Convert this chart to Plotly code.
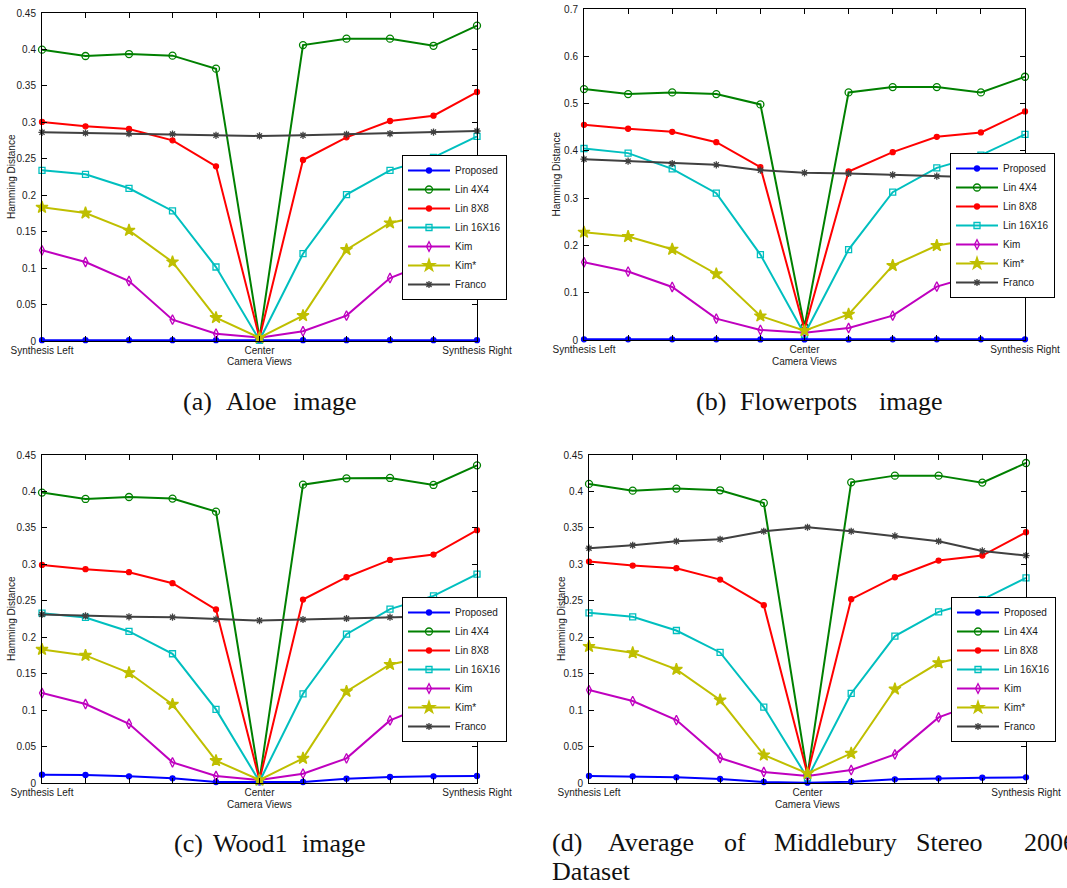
import plotly.graph_objects as go

W, H = 1067, 888

views = list(range(11))
view_ticktext = ["Synthesis Left", "", "", "", "", "Center", "", "", "", "", "Synthesis Right"]

series_names = ["Proposed", "Lin 4X4", "Lin 8X8", "Lin 16X16", "Kim", "Kim*", "Franco"]

# (a) Aloe
aloe_proposed = [0.0012, 0.0012, 0.0012, 0.0012, 0.0011, 0.0010, 0.0011, 0.0012, 0.0012, 0.0012, 0.0012]
aloe_lin4 = [0.3997, 0.3910, 0.3937, 0.3915, 0.3736, 0.0040, 0.4060, 0.4148, 0.4148, 0.4050, 0.4326]
aloe_lin8 = [0.3005, 0.2945, 0.2909, 0.2753, 0.2396, 0.0040, 0.2483, 0.2794, 0.3018, 0.3091, 0.3416]
aloe_lin16 = [0.2341, 0.2287, 0.2095, 0.1784, 0.1015, 0.0010, 0.1198, 0.2008, 0.2341, 0.2520, 0.2808]
aloe_kim = [0.1244, 0.1084, 0.0823, 0.0293, 0.0101, 0.0046, 0.0133, 0.0348, 0.0864, 0.1100, 0.1250]
aloe_kimstar = [0.1834, 0.1756, 0.1518, 0.1084, 0.0320, 0.0046, 0.0348, 0.1253, 0.1619, 0.1750, 0.1860]
aloe_franco = [0.2863, 0.2854, 0.2845, 0.2840, 0.2822, 0.2813, 0.2822, 0.2835, 0.2845, 0.2867, 0.2881]

# (b) Flowerpots
flower_proposed = [0.0015, 0.0015, 0.0015, 0.0014, 0.0013, 0.0012, 0.0013, 0.0014, 0.0015, 0.0015, 0.0015]
flower_lin4 = [0.5306, 0.5200, 0.5236, 0.5200, 0.4982, 0.0280, 0.5236, 0.5349, 0.5349, 0.5236, 0.5567]
flower_lin8 = [0.4551, 0.4467, 0.4403, 0.4184, 0.3655, 0.0220, 0.3564, 0.3973, 0.4297, 0.4389, 0.4834]
flower_lin16 = [0.4050, 0.3952, 0.3620, 0.3105, 0.1806, 0.0120, 0.1912, 0.3126, 0.3641, 0.3909, 0.4347]
flower_kim = [0.1644, 0.1447, 0.1122, 0.0452, 0.0212, 0.0155, 0.0254, 0.0515, 0.1129, 0.1400, 0.1600]
flower_kimstar = [0.2279, 0.2188, 0.1919, 0.1397, 0.0508, 0.0198, 0.0543, 0.1574, 0.1997, 0.2150, 0.2250]
flower_franco = [0.3825, 0.3782, 0.3733, 0.3705, 0.3592, 0.3535, 0.3521, 0.3493, 0.3465, 0.3440, 0.3410]

# (c) Wood1
wood_proposed = [0.0114, 0.0110, 0.0091, 0.0064, 0.0014, 0.0009, 0.0014, 0.0059, 0.0082, 0.0091, 0.0096]
wood_lin4 = [0.3984, 0.3897, 0.3924, 0.3902, 0.3723, 0.0040, 0.4093, 0.4180, 0.4185, 0.4089, 0.4358]
wood_lin8 = [0.2992, 0.2933, 0.2892, 0.2741, 0.2380, 0.0040, 0.2517, 0.2823, 0.3061, 0.3134, 0.3468]
wood_lin16 = [0.2330, 0.2271, 0.2079, 0.1773, 0.1010, 0.0020, 0.1224, 0.2042, 0.2385, 0.2567, 0.2865]
wood_kim = [0.1234, 0.1083, 0.0813, 0.0283, 0.0096, 0.0041, 0.0128, 0.0338, 0.0859, 0.1100, 0.1250]
wood_kimstar = [0.1832, 0.1750, 0.1512, 0.1078, 0.0306, 0.0041, 0.0338, 0.1256, 0.1626, 0.1750, 0.1850]
wood_franco = [0.2312, 0.2293, 0.2280, 0.2275, 0.2248, 0.2229, 0.2243, 0.2257, 0.2275, 0.2290, 0.2300]

# (d) Average of Middlebury Stereo 2006 Dataset
avg_proposed = [0.0096, 0.0091, 0.0078, 0.0055, 0.0014, 0.0005, 0.0018, 0.0050, 0.0064, 0.0073, 0.0078]
avg_lin4 = [0.4103, 0.4011, 0.4039, 0.4016, 0.3842, 0.0110, 0.4125, 0.4217, 0.4217, 0.4121, 0.4390]
avg_lin8 = [0.3038, 0.2983, 0.2947, 0.2791, 0.2440, 0.0120, 0.2522, 0.2823, 0.3052, 0.3120, 0.3440]
avg_lin16 = [0.2335, 0.2280, 0.2092, 0.1791, 0.1042, 0.0070, 0.1229, 0.2015, 0.2348, 0.2517, 0.2814]
avg_kim = [0.1275, 0.1124, 0.0863, 0.0343, 0.0151, 0.0096, 0.0178, 0.0393, 0.0900, 0.1120, 0.1270]
avg_kimstar = [0.1873, 0.1786, 0.1558, 0.1138, 0.0384, 0.0132, 0.0407, 0.1288, 0.1649, 0.1780, 0.1880]
avg_franco = [0.3221, 0.3262, 0.3317, 0.3344, 0.3454, 0.3509, 0.3454, 0.3390, 0.3317, 0.3184, 0.3120]

panels = [
    [aloe_proposed, aloe_lin4, aloe_lin8, aloe_lin16, aloe_kim, aloe_kimstar, aloe_franco],
    [flower_proposed, flower_lin4, flower_lin8, flower_lin16, flower_kim, flower_kimstar, flower_franco],
    [wood_proposed, wood_lin4, wood_lin8, wood_lin16, wood_kim, wood_kimstar, wood_franco],
    [avg_proposed, avg_lin4, avg_lin8, avg_lin16, avg_kim, avg_kimstar, avg_franco],
]
y_max = [0.45, 0.7, 0.45, 0.45]
y_step = [0.05, 0.1, 0.05, 0.05]

colors = ["#0000ff", "#008000", "#ff0000", "#00bfbf", "#bf00bf", "#bfbf00", "#404040"]
symbols = ["circle", "circle-open", "circle", "square-open", "diamond-tall-open", "star", "asterisk-open"]
sizes = [5, 7, 5, 6, 7, 9, 6]

# pixel boxes of plot areas: (left, right, top, bottom)
boxes = [(42, 477, 13, 341), (584, 1025, 9, 340), (42, 477, 455, 783), (589, 1026, 455, 783)]
legend_pos = [(402, 155), (950, 153), (402, 597), (951, 597)]

def px(x):
    return x / W

def py(y):
    return 1 - y / H

fig = go.Figure()
layout = dict(
    width=W, height=H,
    margin=dict(l=0, r=0, t=0, b=0, autoexpand=False),
    paper_bgcolor="white", plot_bgcolor="white",
    font=dict(family="Liberation Sans, Arial, sans-serif", size=10, color="#1a1a1a"),
    annotations=[],
    shapes=[],
)

for p in range(4):
    ax = "" if p == 0 else str(p + 1)
    l, r, t, b = boxes[p]
    for s in range(7):
        fig.add_trace(go.Scatter(
            x=views, y=panels[p][s], name=series_names[s],
            mode="lines+markers",
            line=dict(color=colors[s], width=2),
            marker=dict(symbol=symbols[s], size=sizes[s], color=colors[s],
                        line=dict(color=colors[s], width=1.3)),
            xaxis="x" + ax, yaxis="y" + ax,
            legend="legend" + ax,
            cliponaxis=False,
        ))
    layout["xaxis" + ax] = dict(
        domain=[px(l), px(r)], anchor="y" + ax, range=[0, 10],
        tickvals=views, ticktext=view_ticktext,
        ticks="inside", ticklen=5, tickcolor="black", mirror="ticks",
        showline=True, linecolor="black", linewidth=1,
        showgrid=False, zeroline=False, automargin=False,
        tickfont=dict(size=10, color="#1a1a1a"),
    )
    layout["yaxis" + ax] = dict(
        domain=[py(b), py(t)], anchor="x" + ax, range=[0, y_max[p]],
        dtick=y_step[p], tick0=0,
        ticks="inside", ticklen=5, tickcolor="black", mirror="ticks",
        showline=True, linecolor="black", linewidth=1,
        showgrid=False, zeroline=False, automargin=False,
        ticklabelstandoff=3,
        tickfont=dict(size=10, color="#1a1a1a"),
    )
    lx, ly = legend_pos[p]
    layout["legend" + ax] = dict(
        x=px(lx), y=py(ly), xanchor="left", yanchor="top",
        xref="paper", yref="paper",
        bgcolor="white", bordercolor="black", borderwidth=1,
        font=dict(size=10, color="#1a1a1a"), itemwidth=42,
        entrywidth=118, entrywidthmode="pixels",
        tracegroupgap=0,
    )
    # axis titles
    layout["annotations"].append(dict(
        text="Camera Views", x=px((l + r) / 2), y=py(b + 21),
        xref="paper", yref="paper", showarrow=False,
        xanchor="center", yanchor="middle", font=dict(size=10, color="#1a1a1a")))
    layout["annotations"].append(dict(
        text="Hamming Distance", x=px(l - 31 if p in (0, 2) else l - 28), y=py((t + b) / 2),
        xref="paper", yref="paper", showarrow=False, textangle=-90,
        xanchor="center", yanchor="middle", font=dict(size=10, color="#1a1a1a")))

# captions (word positions mimic the justified LaTeX captions)
caption_words = [
    ("(a)", 181, 401), ("Aloe", 224, 401), ("image", 291, 401),
    ("(b)", 694, 401), ("Flowerpots", 738, 401), ("image", 877, 401),
    ("(c)", 172, 843), ("Wood1", 211, 843), ("image", 300, 843),
    ("(d)", 550, 842), ("Average", 606, 842), ("of", 722, 842), ("Middlebury", 772, 842),
    ("Stereo", 914, 842), ("2006", 1022, 842),
    ("Dataset", 550, 871),
]
for word, x, y in caption_words:
    layout["annotations"].append(dict(
        text=word, x=px(x), y=py(y), xref="paper", yref="paper", showarrow=False,
        xanchor="left", yanchor="middle",
        font=dict(family="Liberation Serif, Times New Roman, serif", size=26, color="#111111")))

fig.update_layout(**layout)
fig.write_html("out.html", config={"displayModeBar": False},
               post_script="document.body.style.margin='0px';document.body.style.padding='0px';")
